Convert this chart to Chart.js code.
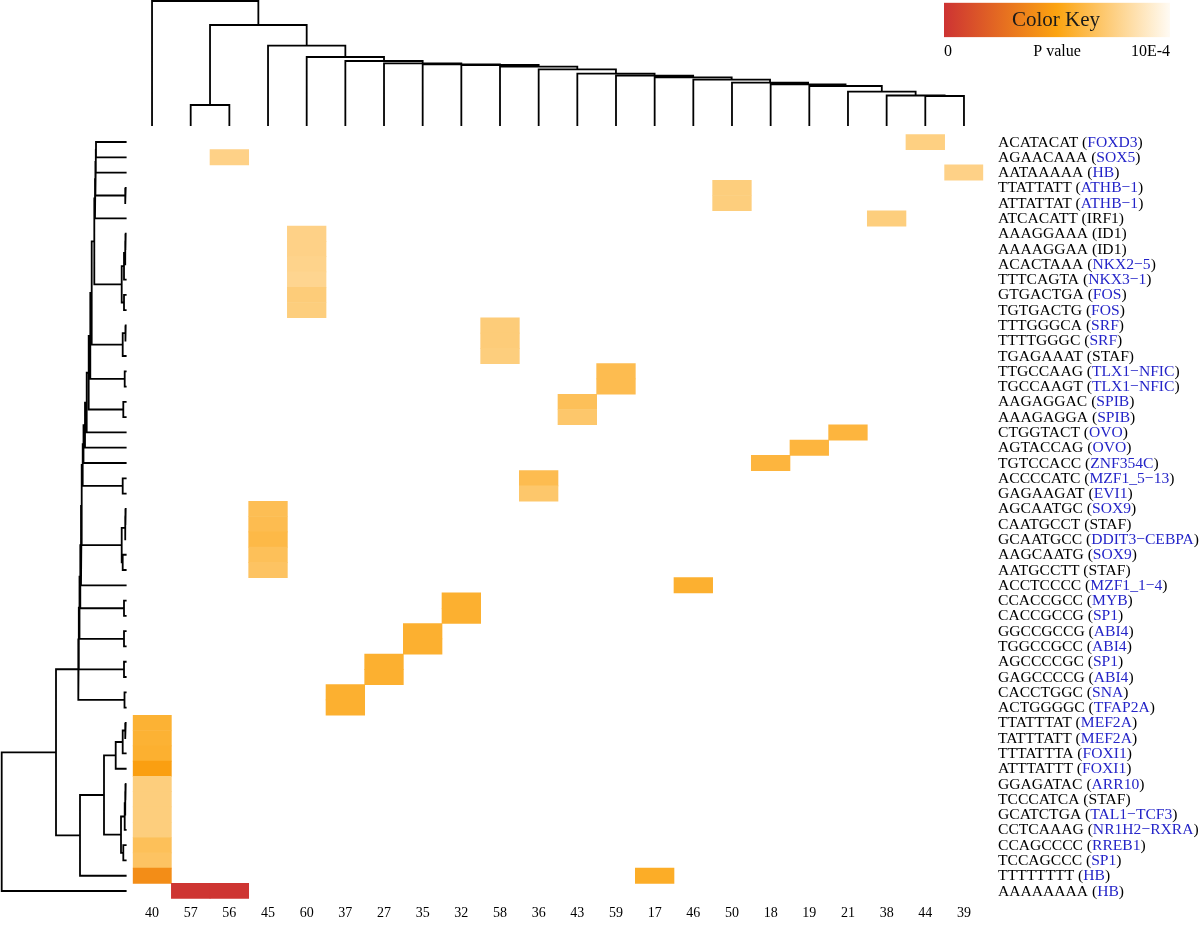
<!DOCTYPE html>
<html><head><meta charset="utf-8">
<script src="https://cdn.jsdelivr.net/npm/chart.js@4.4.0/dist/chart.umd.min.js"></script>
<style>
html,body{margin:0;padding:0;background:#fff;width:1200px;height:927px;overflow:hidden}
canvas{position:absolute;left:0;top:0}
</style></head><body>
<canvas id="heat" width="1200" height="927"></canvas>
<canvas id="topDendro" width="1200" height="927"></canvas>
<canvas id="leftDendro" width="1200" height="927"></canvas>
<canvas id="colorKey" width="1200" height="927"></canvas>
<script>
// ---------------- DATA ----------------
const colLabels = ['40','57','56','45','60','37','27','35','32','58','36','43','59','17','46','50','18','19','21','38','44','39'];

const rowMotifs = ['ACATACAT','AGAACAAA','AATAAAAA','TTATTATT','ATTATTAT','ATCACATT','AAAGGAAA','AAAAGGAA','ACACTAAA','TTTCAGTA',
  'GTGACTGA','TGTGACTG','TTTGGGCA','TTTTGGGC','TGAGAAAT','TTGCCAAG','TGCCAAGT','AAGAGGAC','AAAGAGGA','CTGGTACT',
  'AGTACCAG','TGTCCACC','ACCCCATC','GAGAAGAT','AGCAATGC','CAATGCCT','GCAATGCC','AAGCAATG','AATGCCTT','ACCTCCCC',
  'CCACCGCC','CACCGCCG','GGCCGCCG','TGGCCGCC','AGCCCCGC','GAGCCCCG','CACCTGGC','ACTGGGGC','TTATTTAT','TATTTATT',
  'TTTATTTA','ATTTATTT','GGAGATAC','TCCCATCA','GCATCTGA','CCTCAAAG','CCAGCCCC','TCCAGCCC','TTTTTTTT','AAAAAAAA'];

const rowFactors = ['FOXD3','SOX5','HB','ATHB\u22121','ATHB\u22121','IRF1','ID1','ID1','NKX2\u22125','NKX3\u22121',
  'FOS','FOS','SRF','SRF','STAF','TLX1\u2212NFIC','TLX1\u2212NFIC','SPIB','SPIB','OVO',
  'OVO','ZNF354C','MZF1_5\u221213','EVI1','SOX9','STAF','DDIT3\u2212CEBPA','SOX9','STAF','MZF1_1\u22124',
  'MYB','SP1','ABI4','ABI4','SP1','ABI4','SNA','TFAP2A','MEF2A','MEF2A',
  'FOXI1','FOXI1','ARR10','STAF','TAL1\u2212TCF3','NR1H2\u2212RXRA','RREB1','SP1','HB','HB'];

// 1 = factor name shown in blue, 0 = shown in black
const rowFactorBlue = [1,1,1,1,1,0,0,0,1,1, 1,1,1,1,0,1,1,1,1,1, 1,1,1,1,1,0,1,1,0,1,
  1,1,1,1,1,1,1,1,1,1, 1,1,1,0,1,1,1,1,1,1];

// heatmap cells: row index (0 = top), column label, P value
const cellRows = [0,1,2,3,4,5,6,7,8,9,10,11,12,13,14,15,16,17,18,19,20,21,22,23,24,25,26,27,28,29,
  30,31,32,33,34,35,36,37,38,39,40,41,42,43,44,45,46,47,48,48,49,49];
const cellCols = ['44','56','39','50','50','38','60','60','60','60','60','60','58','58','58','59','59','43','43','21',
  '19','18','36','36','45','45','45','45','45','46','32','32','35','35','27','27','37','37','40','40',
  '40','40','40','40','40','40','40','40','40','17','57','56'];
const cellPValues = [7.5e-4,7.6e-4,7.6e-4,7.4e-4,7.4e-4,7.4e-4,7.6e-4,7.6e-4,7.7e-4,7.8e-4,7.3e-4,7.4e-4,7.3e-4,7.3e-4,7.4e-4,
  6.4e-4,6.4e-4,6.6e-4,7.0e-4,6.0e-4,6.0e-4,6.0e-4,6.4e-4,7.0e-4,6.5e-4,6.4e-4,6.2e-4,6.6e-4,6.8e-4,5.7e-4,
  5.7e-4,5.7e-4,5.7e-4,5.7e-4,5.7e-4,5.7e-4,5.7e-4,5.7e-4,5.8e-4,5.8e-4,5.7e-4,4.8e-4,7.4e-4,7.4e-4,7.4e-4,
  7.4e-4,6.6e-4,6.8e-4,4.0e-4,5.5e-4,0.1e-4,0.1e-4];

// colour key
const keyMaxP = 1e-3;
const keyTickValues = [0, 5e-4, 1e-3];
const keyTickLabels = ['0', 'P value', '10E-4'];
const keyTitle = 'Color Key';
const keyStopPos = [0, 0.5, 1];
const keyStopColors = ['#cd3333', '#fca410', '#fffbf4'];

// column dendrogram (R hclust style: negative = leaf in display order, positive = merge number)
const colMerges = [[-21,-22],[-20,1],[-19,2],[-18,3],[-17,4],[-16,5],[-15,6],[-14,7],[-13,8],[-12,9],
  [-11,10],[-10,11],[-9,12],[-8,13],[-7,14],[-6,15],[-5,16],[-4,17],[-2,-3],[19,18],[-1,20]];
const colHeights = [29,29.5,33.3,39,40.7,42.3,45.3,47.7,49.3,51.4,55.7,58.3,60,60.7,61.7,64,68,79.3,20,100,124];

// row dendrogram
const rowMerges = [[-1,-2],[1,-3],[-4,-5],[2,3],[4,-6],[-7,-8],[6,-9],[7,-10],[-11,-12],[8,9],
  [5,10],[-13,-14],[12,-15],[11,13],[-16,-17],[14,15],[-18,-19],[16,17],[18,-20],[19,-21],
  [20,-22],[-23,-24],[21,22],[-25,-26],[24,-27],[-28,-29],[25,26],[23,27],[28,-30],[-31,-32],
  [29,30],[-33,-34],[31,32],[-35,-36],[33,34],[-37,-38],[35,36],[-39,-40],[38,-41],[39,-42],
  [-43,-44],[41,-45],[42,-46],[-47,-48],[43,44],[40,45],[46,-49],[37,47],[48,-50]];
const rowHeights = [29.7,29.9,0.7,30.3,30.7,0.4,0.7,1.7,1.7,4,
  31.4,0.4,3,34,1,35.4,2.4,37,39,40.7,
  42.2,3,43,0.4,0.7,3,4,44,44.7,1.7,
  45.4,1.7,46.2,1.7,46.9,1.2,47.4,0.7,3,10,
  0.4,0.7,1,2.4,4.7,21.7,45.7,69.7,124];

// ---------------- LAYOUT ----------------
const W = 1200, H = 927;
const heatLeft = 132.7, heatRight = 983.3, heatTop = 134.36, heatBottom = 898.66;
const serif = '"Liberation Serif", "Times New Roman", serif';

Chart.defaults.animation = false;
Chart.defaults.font.family = serif;

function hexToRgb(h){ return [parseInt(h.slice(1,3),16), parseInt(h.slice(3,5),16), parseInt(h.slice(5,7),16)]; }
function colorFor(p){
  let t = Math.max(0, Math.min(1, p / keyMaxP));
  for (let i = 0; i < keyStopPos.length - 1; i++) {
    if (t <= keyStopPos[i+1]) {
      const f = (t - keyStopPos[i]) / (keyStopPos[i+1] - keyStopPos[i]);
      const a = hexToRgb(keyStopColors[i]), b = hexToRgb(keyStopColors[i+1]);
      const c = a.map((v, k) => Math.round(v + (b[k] - v) * f));
      return 'rgb(' + c.join(',') + ')';
    }
  }
  return keyStopColors[keyStopColors.length - 1];
}

// dendrogram segments in (position, height) pairs; gaps separate nodes
function dendroSegments(merges, heights, horizontal) {
  const pos = [];
  const pts = [];
  const info = r => r < 0 ? {p: -r - 1, h: 0} : {p: pos[r - 1], h: heights[r - 1]};
  const mk = (p, h) => horizontal ? {x: h, y: p} : {x: p, y: h};
  merges.forEach((m, i) => {
    const A = info(m[0]), B = info(m[1]), h = heights[i];
    pos[i] = (A.p + B.p) / 2;
    pts.push(mk(A.p, A.h), mk(A.p, h), mk(B.p, h), mk(B.p, B.h), {x: NaN, y: NaN});
  });
  return pts;
}

// ---------------- HEATMAP ----------------
const rowLabelPlugin = {
  id: 'rowLabels',
  afterDraw(chart) {
    const ctx = chart.ctx, ys = chart.scales.y;
    const x0 = chart.chartArea.right + 14.7;
    ctx.save();
    ctx.font = '15.6px ' + serif;
    ctx.textBaseline = 'middle';
    ctx.textAlign = 'left';
    rowMotifs.forEach((m, i) => {
      const y = ys.getPixelForValue(i + 0.5) + 0.5;
      let x = x0;
      const parts = [[m + ' (', '#000'], [rowFactors[i], rowFactorBlue[i] ? '#2424c8' : '#000'], [')', '#000']];
      parts.forEach(([txt, col]) => {
        ctx.fillStyle = col;
        ctx.fillText(txt, x, y);
        x += ctx.measureText(txt).width;
      });
    });
    ctx.restore();
  }
};

new Chart(document.getElementById('heat'), {
  type: 'bar',
  data: {
    labels: colLabels,
    datasets: [{
      data: cellRows.map((r, i) => ({x: cellCols[i], y: [r, r + 1]})),
      backgroundColor: cellPValues.map(colorFor),
      borderWidth: 0,
      barPercentage: 1,
      categoryPercentage: 1
    }]
  },
  options: {
    responsive: false,
    layout: {padding: {left: heatLeft, right: W - heatRight, top: heatTop, bottom: 0}},
    plugins: {legend: {display: false}, tooltip: {enabled: false}},
    scales: {
      x: {
        position: 'bottom',
        grid: {display: false, drawTicks: false},
        border: {display: false},
        ticks: {color: '#000', font: {size: 14, family: serif}, padding: 6, autoSkip: false, maxRotation: 0},
        afterFit: s => { s.height = H - heatBottom; s.paddingLeft = 0; s.paddingRight = 0; }
      },
      y: {display: false, min: 0, max: rowMotifs.length, reverse: true}
    }
  },
  plugins: [rowLabelPlugin]
});

// ---------------- DENDROGRAMS ----------------
const lineDs = pts => ({data: pts, showLine: true, borderColor: '#000', borderWidth: 1.8, pointRadius: 0,
  spanGaps: false, clip: false, tension: 0, borderCapStyle: 'square'});

new Chart(document.getElementById('topDendro'), {
  type: 'scatter',
  data: {datasets: [lineDs(dendroSegments(colMerges, colHeights, false))]},
  options: {
    responsive: false, events: [],
    layout: {padding: {left: heatLeft, right: W - heatRight, top: 0, bottom: H - 127}},
    plugins: {legend: {display: false}, tooltip: {enabled: false}},
    scales: {
      x: {display: false, type: 'linear', min: -0.5, max: colLabels.length - 0.5},
      y: {display: false, type: 'linear', min: -2, max: 125}
    }
  }
});

new Chart(document.getElementById('leftDendro'), {
  type: 'scatter',
  data: {datasets: [lineDs(dendroSegments(rowMerges, rowHeights, true))]},
  options: {
    responsive: false, events: [],
    layout: {padding: {left: 0, right: W - 127.5, top: heatTop, bottom: H - heatBottom}},
    plugins: {legend: {display: false}, tooltip: {enabled: false}},
    scales: {
      x: {display: false, type: 'linear', min: -1.8, max: 125.7, reverse: true},
      y: {display: false, type: 'linear', min: -0.5, max: rowMotifs.length - 0.5, reverse: true}
    }
  }
});

// ---------------- COLOR KEY ----------------
const keyTitlePlugin = {
  id: 'keyTitle',
  afterDatasetsDraw(chart) {
    const a = chart.chartArea, ctx = chart.ctx;
    ctx.save();
    ctx.font = '21px ' + serif;
    ctx.fillStyle = '#1a1a1a';
    ctx.textAlign = 'center';
    ctx.textBaseline = 'middle';
    ctx.fillText(keyTitle, (a.left + a.right) / 2 - 1, (a.top + a.bottom) / 2 + 1);
    ctx.restore();
  }
};

new Chart(document.getElementById('colorKey'), {
  type: 'bar',
  data: {
    labels: ['key'],
    datasets: [{
      data: [[0, keyMaxP]],
      borderWidth: 0,
      barPercentage: 1,
      categoryPercentage: 1,
      backgroundColor: (c) => {
        const ch = c.chart, xs = ch.scales.x;
        if (!ch.chartArea || !xs) return keyStopColors[1];
        const g = ch.ctx.createLinearGradient(xs.getPixelForValue(0), 0, xs.getPixelForValue(keyMaxP), 0);
        keyStopPos.forEach((p, i) => g.addColorStop(p, keyStopColors[i]));
        return g;
      }
    }]
  },
  options: {
    indexAxis: 'y',
    responsive: false, events: [],
    layout: {padding: {left: 944, right: W - 1170, top: 2.7, bottom: H - 64}},
    plugins: {legend: {display: false}, tooltip: {enabled: false}},
    scales: {
      x: {
        type: 'linear', min: 0, max: keyMaxP,
        grid: {display: false, drawTicks: false},
        border: {display: false},
        afterBuildTicks: s => { s.ticks = keyTickValues.map(v => ({value: v})); },
        ticks: {color: '#000', font: {size: 16, family: serif}, padding: 5, align: 'inner', maxRotation: 0,
          callback: (v, i) => keyTickLabels[i]},
        afterFit: s => { s.height = 64 - 37.2; s.paddingLeft = 0; s.paddingRight = 0; }
      },
      y: {display: false}
    }
  },
  plugins: [keyTitlePlugin]
});
</script>
</body></html>
